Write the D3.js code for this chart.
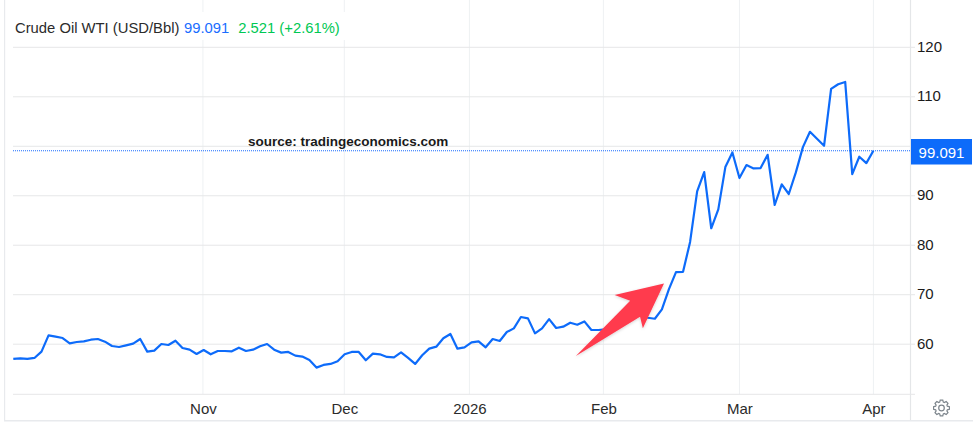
<!DOCTYPE html>
<html><head><meta charset="utf-8">
<script src="https://cdn.jsdelivr.net/npm/d3@7"></script>
<style>
html,body{margin:0;padding:0;background:#fff}
svg{display:block}
text{font-family:"Liberation Sans",Arial,sans-serif}
</style></head><body>
<svg id="c" width="973" height="423"></svg>
<script>
const prices = [57.02,57.15,57.02,57.22,58.5,61.79,61.52,61.25,60.18,60.44,60.58,60.91,61.05,60.51,59.64,59.44,59.77,60.11,61.05,58.5,58.7,60.04,59.84,60.71,59.23,58.9,58.03,58.83,57.96,58.63,58.63,58.56,59.3,58.63,58.9,59.57,60.04,58.9,58.3,58.43,57.69,57.49,56.82,55.27,55.81,56.01,56.55,57.96,58.43,58.43,56.75,58.09,57.96,57.42,57.35,58.36,57.22,56.01,57.76,59.1,59.5,61.19,62.06,59.1,59.37,60.38,60.58,59.37,61.05,60.65,62.46,63.2,65.49,65.22,62.19,63.2,65.08,63.27,63.54,64.34,63.94,64.61,62.87,62.87,63.0,63.6,64.6,65.6,66.0,65.89,65.35,65.15,67.03,71.13,74.56,74.62,80.67,90.89,94.78,83.43,87.26,95.79,98.75,93.58,96.2,95.53,95.6,98.28,88.13,92.3,90.35,94.72,99.83,102.92,101.5,100.1,111.59,112.53,113.0,94.38,97.88,96.6,99.091];
const monthLabels = ["Nov","Dec","2026","Feb","Mar","Apr"];
const monthIndex = [26.9,46.95,64.7,83.7,103,122];
const yTicks = [60,70,80,90,100,110,120];
const yLabelled = [60,70,80,90,110,120];
const lastValue = 99.091;
const titleParts = [["Crude Oil WTI (USD/Bbl)","#2b2b2b"],["99.091","#1a6dff"],["2.521 (+2.61%)","#00c853"]];
const sourceText = "source: tradingeconomics.com";
const arrowIdx = [92.3,85.3,87.5,79.8,88.9,89.3];
const arrowVal = [72.28,69.92,68.77,57.62,65.54,63.2];

const svg = d3.select("#c");
const x = d3.scaleLinear().domain([0,122]).range([13.3,873.4]);
const y = d3.scaleLinear().domain([60,120]).range([344.2,47.3]);
const L=13,R=908,B=394.3,AX=910.5,F=420;

// frame
svg.append("rect").attr("x",4).attr("y",0).attr("width",1.2).attr("height",F).attr("fill","#e8eaed");
svg.append("rect").attr("x",4).attr("y",F).attr("width",969).attr("height",1.5).attr("fill","#e8eaed");
svg.append("rect").attr("x",AX-.6).attr("y",0).attr("width",1.2).attr("height",F).attr("fill","#e4e6e8");

// vertical grid
svg.append("g").selectAll("line").data(monthIndex).join("line")
  .attr("x1",d=>x(d)).attr("x2",d=>x(d)).attr("y1",0).attr("y2",B)
  .attr("stroke","#eef1f3").attr("stroke-width",1);
// horizontal grid
svg.append("g").selectAll("line").data(yTicks).join("line")
  .attr("x1",L).attr("x2",915).attr("y1",d=>y(d)).attr("y2",d=>y(d))
  .attr("stroke","#e6e7e8").attr("stroke-width",1);
svg.append("line").attr("x1",L).attr("x2",915).attr("y1",B).attr("y2",B).attr("stroke","#e6e7e8");

// title
svg.append("rect").attr("x",13).attr("y",12).attr("width",332).attr("height",28).attr("fill","#fff");
const title = svg.append("text").attr("x",15).attr("y",33).attr("font-size",14.8);
titleParts.forEach((p,i)=>title.append("tspan").attr("dx",i==0?0:(i==1?4.5:9)).attr("fill",p[1]).text(p[0]));

// axes
const xAxis = d3.axisBottom(x).tickValues(monthIndex).tickFormat((d,i)=>monthLabels[i]).tickSize(0).tickPadding(0);
const gx = svg.append("g").attr("transform",`translate(0,${B})`).call(xAxis);
gx.select(".domain").remove();
gx.selectAll("text").attr("y",19.5).attr("dy",0).attr("font-size",15).attr("fill","#2b2b2b").style("font-family",'"Liberation Sans",Arial,sans-serif');
const yAxis = d3.axisRight(y).tickValues(yLabelled).tickSize(0).tickPadding(0);
const gy = svg.append("g").attr("transform","translate(917,-0.7)").call(yAxis);
gy.select(".domain").remove();
gy.selectAll("text").attr("x",0).attr("font-size",15).attr("fill","#1a1a1a").style("font-family",'"Liberation Sans",Arial,sans-serif');

// last value dotted line
svg.append("line").attr("x1",L).attr("x2",AX).attr("y1",y(lastValue)).attr("y2",y(lastValue))
  .attr("stroke","#1a6dff").attr("stroke-width",1).attr("stroke-dasharray","1 1");

// source
svg.append("text").attr("x",248).attr("y",146).attr("font-size",13.5).attr("font-weight",700).attr("fill","#1a1a1a").text(sourceText);

// series
const line = d3.line().x((d,i)=>x(i)).y(d=>y(d)).curve(d3.curveLinear);
svg.append("path").attr("d",line(prices)).attr("fill","none").attr("stroke","#0d6bfa").attr("stroke-width",2.2).attr("stroke-linejoin","round");

// arrow
const defs = svg.append("defs");
const ff = defs.append("filter").attr("id","sh").attr("x","-20%").attr("y","-20%").attr("width","140%").attr("height","140%");
ff.append("feDropShadow").attr("dx",0).attr("dy",1).attr("stdDeviation",1.5).attr("flood-color","#000").attr("flood-opacity",.18);
const arrow = d3.line().x(d=>x(d[0])).y(d=>y(d[1]));
svg.append("path").attr("d",arrow(d3.zip(arrowIdx,arrowVal))+"Z").attr("fill","#ff3a4e").attr("filter","url(#sh)");

// value tag
svg.append("rect").attr("x",911).attr("y",139).attr("width",61).attr("height",25.5).attr("fill","#0d6bfa");
svg.append("text").attr("x",941.5).attr("y",157.5).attr("text-anchor","middle").attr("font-size",15).attr("fill","#fff").text("99.091");

// gear
const teeth = d3.range(0,8).flatMap(k=>{const a=k*Math.PI/4;const w=.2;return [[a-w*1.5,6.1],[a-w*.8,8],[a+w*.8,8],[a+w*1.5,6.1]];});
svg.append("path").attr("transform","translate(941.5,408)").attr("d",d3.lineRadial().angle(d=>d[0]).radius(d=>d[1])(teeth)+"Z").attr("fill","none").attr("stroke","#7d858c").attr("stroke-width",1.2);
svg.append("circle").attr("cx",941.5).attr("cy",408).attr("r",2.8).attr("fill","none").attr("stroke","#7d858c").attr("stroke-width",1.2);
</script></body></html>
